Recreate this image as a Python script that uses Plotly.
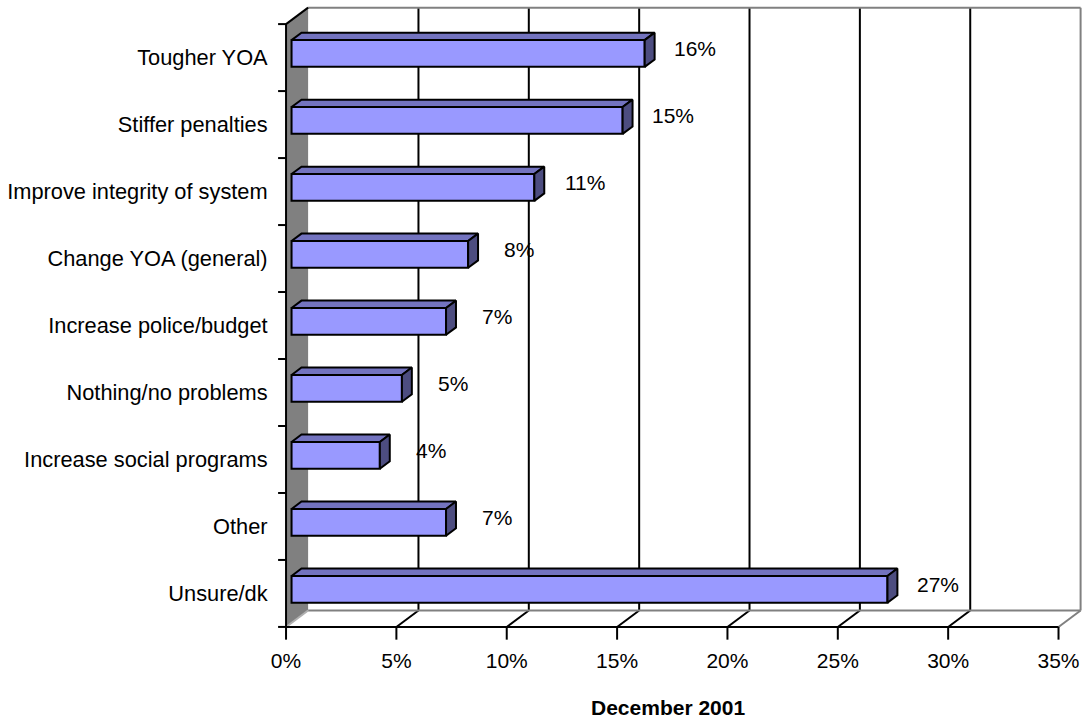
import plotly.graph_objects as go

# ---------------- data ----------------
categories = [
    "Tougher YOA",
    "Stiffer penalties",
    "Improve integrity of system",
    "Change YOA (general)",
    "Increase police/budget",
    "Nothing/no problems",
    "Increase social programs",
    "Other",
    "Unsure/dk",
]
values = [16, 15, 11, 8, 7, 5, 4, 7, 27]
x_ticks = [0, 5, 10, 15, 20, 25, 30, 35]
x_tick_labels = ["0%", "5%", "10%", "15%", "20%", "25%", "30%", "35%"]
value_labels = [f"{v}%" for v in values]
x_title = "December 2001"

# ---------------- 3D projection settings ----------------
DX, DY = 1.0, 0.246       # shift for full depth (x in %, y in category units)
D0, D1 = 0.25, 0.70       # depth of bar front / back faces
HALF = 0.2                # half bar thickness (category units)
n = len(categories)
XMAX = x_ticks[-1]
ypos = [n - 1 - i + 0.5 for i in range(n)]

FONT = "Liberation Sans, Arial, sans-serif"
BLACK = "#000000"
GRAY = "#808080"

# pixel geometry
PX_X = 22.06
PX_Y = 67.0
W, H = 1086, 721
x_range = [-0.5, 36.2]
y_range = [-0.21, 9.33]
ml = 286 - (0 - x_range[0]) * PX_X
pw = (x_range[1] - x_range[0]) * PX_X
mr = W - ml - pw
mb = H - (627 + (0 - y_range[0]) * PX_Y)
mt = 627 - y_range[1] * PX_Y

shapes = []


def seg(x0, y0, x1, y1, color=BLACK, width=2):
    shapes.append(dict(type="line", xref="x", yref="y", x0=x0, y0=y0, x1=x1, y1=y1,
                       layer="below", line=dict(color=color, width=width)))


# left wall
shapes.append(dict(type="path", xref="x", yref="y", layer="below",
                   path=f"M 0,0 L {DX},{DY} L {DX},{n + DY} L 0,{n} Z",
                   fillcolor=GRAY, line=dict(width=0)))

# back wall gridlines and floor diagonals
for t in x_ticks[1:-1]:
    seg(t + DX, DY, t + DX, n + DY)
    seg(t, 0, t + DX, DY)

# gray border of back wall / floor
seg(DX, n + DY, XMAX + DX, n + DY, GRAY)
seg(XMAX + DX, n + DY, XMAX + DX, DY, GRAY)
seg(DX, DY, XMAX + DX, DY, GRAY)
seg(XMAX, 0, XMAX + DX, DY, GRAY)
seg(0, 0, DX, DY, "#b0b0b0")

# black axes
seg(0, 0, 0, n)
seg(0, n, DX, n + DY)
seg(0, 0, XMAX, 0)
for j in range(n + 1):
    seg(-0.36, j, 0, j)
for t in x_ticks:
    seg(t, 0, t, -0.19)

fig = go.Figure()

# front faces of bars
fig.add_trace(go.Bar(
    y=[p + D0 * DY for p in ypos], x=values, base=D0 * DX, orientation="h",
    width=2 * HALF,
    marker=dict(color="#9999FF", line=dict(color=BLACK, width=2)),
    hoverinfo="skip",
))

# top and side faces
for v, p in zip(values, ypos):
    yf_top = p + D0 * DY + HALF
    yf_bot = p + D0 * DY - HALF
    yb_top = p + D1 * DY + HALF
    yb_bot = p + D1 * DY - HALF
    xf0, xb0 = D0 * DX, D1 * DX
    fig.add_trace(go.Scatter(
        x=[xf0, xf0 + v, xb0 + v, xb0, xf0], y=[yf_top, yf_top, yb_top, yb_top, yf_top],
        mode="lines", fill="toself", fillcolor="#7373BF",
        line=dict(color=BLACK, width=2), hoverinfo="skip"))
    fig.add_trace(go.Scatter(
        x=[xf0 + v, xf0 + v, xb0 + v, xb0 + v, xf0 + v], y=[yf_bot, yf_top, yb_top, yb_bot, yf_bot],
        mode="lines", fill="toself", fillcolor="#4D4D80",
        line=dict(color=BLACK, width=2), hoverinfo="skip"))

annotations = []
for v, p, lab in zip(values, ypos, value_labels):
    annotations.append(dict(x=v + D0 * DX + 2.3, y=p + 0.13, xref="x", yref="y",
                            text=lab, showarrow=False, xanchor="center", yanchor="middle",
                            font=dict(family=FONT, size=21, color=BLACK)))

annotations.append(dict(x=17.3, y=0, xref="x", yref="paper", yanchor="middle", yshift=-66,
                        text=f"<b>{x_title}</b>", showarrow=False,
                        font=dict(family=FONT, size=21, color=BLACK)))

fig.update_layout(
    width=W, height=H,
    margin=dict(l=ml, r=mr, t=mt, b=mb, pad=0),
    paper_bgcolor="white", plot_bgcolor="white",
    showlegend=False,
    shapes=shapes,
    annotations=annotations,
    xaxis=dict(range=x_range, showgrid=False, zeroline=False, showline=False,
               tickmode="array", tickvals=x_ticks, ticktext=x_tick_labels,
               ticks="outside", ticklen=1, tickcolor="rgba(0,0,0,0)",
               tickfont=dict(family=FONT, size=21, color=BLACK), fixedrange=True),
    yaxis=dict(range=y_range, showgrid=False, zeroline=False, showline=False,
               tickmode="array", tickvals=ypos, ticktext=categories,
               ticks="outside", ticklen=2, tickcolor="rgba(0,0,0,0)",
               tickfont=dict(family=FONT, size=21.8, color=BLACK), fixedrange=True),
)

fig.write_html("out.html", config={"displayModeBar": False},
               post_script="document.body.style.margin='0';document.body.style.overflow='hidden';")
